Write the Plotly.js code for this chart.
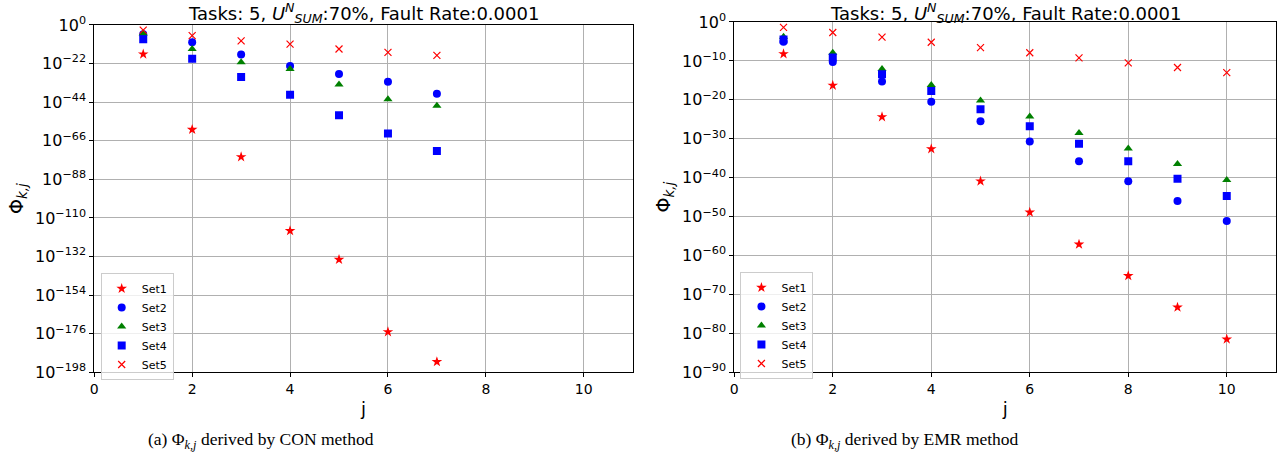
<!DOCTYPE html>
<html>
<head>
<meta charset="utf-8">
<script src="https://cdn.plot.ly/plotly-3.0.1.min.js"></script>
<style>html,body{margin:0;padding:0;background:#fff;}#chart{width:1281px;height:461px;}</style>
</head>
<body>
<div id="chart"></div>
<script>
// j values
const jCon = [1, 2, 3, 4, 5, 6, 7];
const jEmr = [1, 2, 3, 4, 5, 6, 7, 8, 9, 10];

// log10(Phi_{k,j}) — CON method
const conSet1 = [-16.6, -59.6, -75.2, -117.3, -133.7, -175.0, -192.0];
const conSet2 = [-5.3, -9.9, -16.8, -23.4, -28.0, -32.4, -39.2];
const conSet3 = [-4.8, -13.7, -21.3, -25.1, -33.9, -42.3, -46.1];
const conSet4 = [-8.2, -19.3, -29.7, -39.8, -51.4, -61.9, -71.8];
const conSet5 = [-2.9, -6.1, -9.1, -10.9, -13.7, -15.6, -17.3];

// log10(Phi_{k,j}) — EMR method
const emrSet1 = [-8.2, -16.3, -24.4, -32.6, -40.9, -48.9, -57.1, -65.2, -73.3, -81.5];
const emrSet2 = [-5.1, -10.3, -15.3, -20.5, -25.5, -30.7, -35.8, -40.9, -46.0, -51.1];
const emrSet3 = [-3.8, -7.9, -12.1, -16.2, -20.2, -24.3, -28.5, -32.5, -36.5, -40.6];
const emrSet4 = [-4.5, -9.1, -13.4, -17.7, -22.4, -26.8, -31.3, -35.8, -40.3, -44.7];
const emrSet5 = [-1.4, -2.7, -3.9, -5.2, -6.6, -7.9, -9.2, -10.5, -11.7, -13.0];

const setNames = ['Set1', 'Set2', 'Set3', 'Set4', 'Set5'];
const xTicks = [0, 2, 4, 6, 8, 10];
const conYExp = [0, -22, -44, -66, -88, -110, -132, -154, -176, -198];
const emrYExp = [0, -10, -20, -30, -40, -50, -60, -70, -80, -90];

const styles = [
  {symbol: 'star', color: '#ff0000', size: 8},
  {symbol: 'circle', color: '#0000ff', size: 8},
  {symbol: 'triangle-up', color: '#008000', size: 8},
  {symbol: 'square', color: '#0000ff', size: 8},
  {symbol: 'x-thin-open', color: '#ff0000', size: 7}
];

const toVal = arr => arr.map(e => Math.pow(10, e));
const traces = [];
[conSet1, conSet2, conSet3, conSet4, conSet5].forEach((s, i) => {
  const st = styles[i];
  traces.push({
    x: jCon, y: toVal(s), type: 'scatter', mode: 'markers', name: setNames[i],
    xaxis: 'x', yaxis: 'y', legend: 'legend',
    marker: {symbol: st.symbol, color: st.color, size: st.size,
             line: {color: st.color, width: st.symbol === 'x-thin-open' ? 1.2 : 0}}
  });
});
[emrSet1, emrSet2, emrSet3, emrSet4, emrSet5].forEach((s, i) => {
  const st = styles[i];
  traces.push({
    x: jEmr, y: toVal(s), type: 'scatter', mode: 'markers', name: setNames[i],
    xaxis: 'x2', yaxis: 'y2', legend: 'legend2',
    marker: {symbol: st.symbol, color: st.color, size: st.size,
             line: {color: st.color, width: st.symbol === 'x-thin-open' ? 1.2 : 0}}
  });
});

const tickFont = {family: 'DejaVu Sans', size: 14, color: '#000'};
const xAxisBase = {
  range: [0, 11], tickvals: xTicks, ticktext: xTicks.map(String),
  showgrid: true, gridcolor: '#b0b0b0', gridwidth: 1,
  showline: true, linecolor: '#000', linewidth: 1, mirror: true,
  ticks: 'outside', ticklen: 4, tickcolor: '#000', zeroline: false,
  tickfont: tickFont,
  title: {text: 'j', font: {family: 'DejaVu Sans', size: 18, color: '#000'}, standoff: 6}
};
function yAxis(exps) {
  return {
    type: 'log', range: [exps[exps.length - 1], 0],
    tickvals: exps.map(e => Math.pow(10, e)),
    ticktext: exps.map(e => e === 0 ? '10<sup>0</sup>' : '10<sup>\u2212' + (-e) + '</sup>'),
    showgrid: true, gridcolor: '#b0b0b0', gridwidth: 1,
    showline: true, linecolor: '#000', linewidth: 1, mirror: true,
    ticks: 'outside', ticklen: 4, tickcolor: '#000', zeroline: false,
    tickfont: {family: 'DejaVu Sans', size: 16, color: '#000'},
    title: {text: '\u03A6<sub><i>k,j</i></sub>', font: {family: 'DejaVu Sans', size: 19, color: '#000'}, standoff: 6}
  };
}

const titleText = 'Tasks: 5, <i>U</i><sup><i>N</i></sup><sub><i>SUM</i></sub>:70%, Fault Rate:0.0001';
const legendBase = {
  xanchor: 'left', yanchor: 'top', bgcolor: 'rgba(255,255,255,0.8)',
  bordercolor: '#cccccc', borderwidth: 1,
  font: {family: 'DejaVu Sans', size: 11, color: '#000'},
  itemwidth: 30, tracegroupgap: 0
};

const layout = {
  width: 1281, height: 461,
  margin: {l: 0, r: 0, t: 0, b: 0},
  paper_bgcolor: '#fff', plot_bgcolor: '#fff',
  showlegend: true,
  xaxis: Object.assign({}, xAxisBase, {domain: [0.0736, 0.4939], anchor: 'y'}),
  yaxis: Object.assign(yAxis(conYExp), {domain: [0.1924, 0.9458], anchor: 'x'}),
  xaxis2: Object.assign({}, xAxisBase, {domain: [0.5732, 0.9961], anchor: 'y2'}),
  yaxis2: Object.assign(yAxis(emrYExp), {domain: [0.1924, 0.9523], anchor: 'x2'}),
  legend: Object.assign({}, legendBase, {x: 0.0786, y: 1 - 273 / 461}),
  legend2: Object.assign({}, legendBase, {x: 0.578, y: 1 - 272 / 461}),
  annotations: [
    {text: titleText, xref: 'paper', yref: 'paper', x: (0.0736 + 0.4939) / 2, y: 1 - 13 / 461,
     xanchor: 'center', yanchor: 'middle', showarrow: false,
     font: {family: 'DejaVu Sans', size: 18, color: '#000'}},
    {text: titleText, xref: 'paper', yref: 'paper', x: (0.5732 + 0.9961) / 2, y: 1 - 13 / 461,
     xanchor: 'center', yanchor: 'middle', showarrow: false,
     font: {family: 'DejaVu Sans', size: 18, color: '#000'}},
    {text: '(a) \u03A6<sub><i>k,j</i></sub> derived by CON method', xref: 'paper', yref: 'paper',
     x: 261 / 1281, y: 1 - 440 / 461, xanchor: 'center', yanchor: 'middle', showarrow: false,
     font: {family: 'Liberation Serif', size: 17.5, color: '#000'}},
    {text: '(b) \u03A6<sub><i>k,j</i></sub> derived by EMR method', xref: 'paper', yref: 'paper',
     x: 905 / 1281, y: 1 - 440 / 461, xanchor: 'center', yanchor: 'middle', showarrow: false,
     font: {family: 'Liberation Serif', size: 17.5, color: '#000'}}
  ]
};

Plotly.newPlot('chart', traces, layout, {displayModeBar: false, staticPlot: true});
</script>
</body>
</html>
